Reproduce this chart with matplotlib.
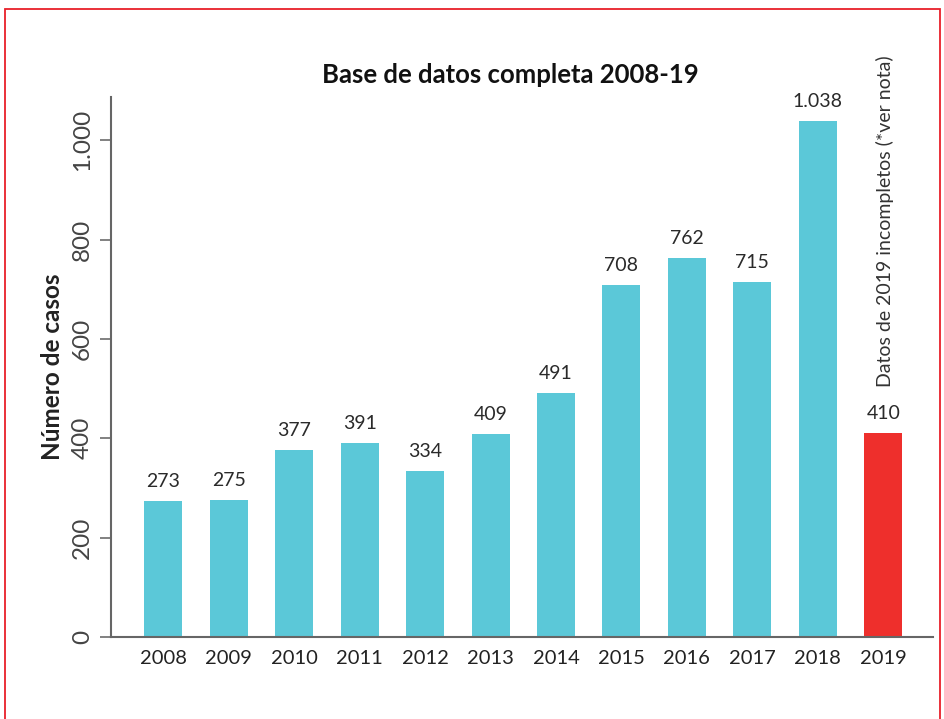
import numpy as np
import matplotlib.pyplot as plt
from matplotlib.patches import Rectangle
from matplotlib.ticker import FuncFormatter

plt.rcParams['font.family'] = ['Lato', 'DejaVu Sans']

# data
years = ["2008", "2009", "2010", "2011", "2012", "2013",
         "2014", "2015", "2016", "2017", "2018", "2019"]
casos = [273, 275, 377, 391, 334, 409, 491, 708, 762, 715, 1038, 410]
etiquetas = ["273", "275", "377", "391", "334", "409",
             "491", "708", "762", "715", "1.038", "410"]
yticks = [0, 200, 400, 600, 800, 1000]

teal = "#5bc8d8"
red = "#ee2f2c"
colors = [teal] * (len(years) - 1) + [red]

fig = plt.figure(figsize=(9.45, 7.19), dpi=100)
ax = fig.add_axes([111/945, 1 - 637/719, (933 - 111)/945, (637 - 97)/719])

x = np.arange(len(years))
bars = ax.bar(x, casos, width=0.58, color=colors, zorder=2)

# value labels above the bars
for b, lab in zip(bars, etiquetas):
    ax.annotate(lab, (b.get_x() + b.get_width()/2, b.get_height()),
                xytext=(0, 8), textcoords="offset points",
                ha="center", va="bottom", fontsize=14, color="#2a2a2a")

ax.set_xlim(-0.8, len(years) - 0.24)
ax.set_ylim(0, 1087)
ax.set_xticks(x)
ax.set_xticklabels(years, fontsize=14.5, color="#222222")
ax.tick_params(axis="x", length=0, pad=9)

ax.set_yticks(yticks)
ax.yaxis.set_major_formatter(FuncFormatter(lambda v, p: f"{int(v):,}".replace(",", ".")))
ax.tick_params(axis="y", direction="out", length=8, width=1.3, color="#777777",
               labelsize=17.5, labelcolor="#444444", pad=5)
for t in ax.get_yticklabels():
    t.set_rotation(90)
    t.set_va("center")

for s in ["top", "right"]:
    ax.spines[s].set_visible(False)
for s in ["left", "bottom"]:
    ax.spines[s].set_color("#666666")
    ax.spines[s].set_linewidth(1.5)

ax.set_ylabel("Número de casos", fontsize=17.5, fontweight="bold", color="#222222", labelpad=6)

fig.text(510/945, 1 - 75/719, "Base de datos completa 2008-19",
         ha="center", va="center", fontsize=18.5, fontweight="bold", color="#111111")

fig.text(885/945, 1 - 55/719, "Datos de 2019 incompletos (*ver nota)",
         rotation=90, ha="center", va="top", fontsize=14, color="#333333")

# red frame
fig.patches.append(Rectangle((5/945, -0.1), (940 - 5)/945, 1.1 - 9/719,
                             transform=fig.transFigure, fill=False,
                             edgecolor="#e8202a", linewidth=1.3))

fig.savefig("out.png", dpi=100)
